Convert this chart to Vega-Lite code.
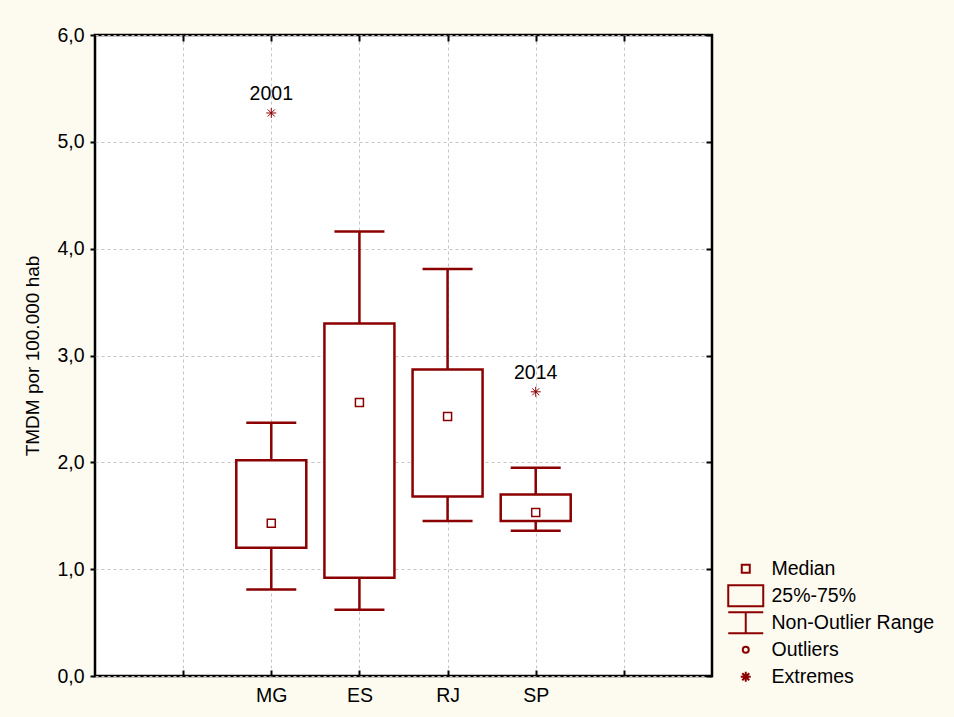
{
  "$schema": "https://vega.github.io/schema/vega-lite/v6.json",
  "width": 617,
  "height": 641,
  "autosize": {"type": "none"},
  "padding": {"left": 95, "top": 35, "right": 242, "bottom": 41},
  "background": "#FDFAF0",
  "config": {
    "view": {"fill": "white", "stroke": "#000", "strokeWidth": 2.5},
    "font": "Liberation Sans",
    "axis": {
      "domain": false,
      "labelFont": "Liberation Sans",
      "labelFontSize": 19.5,
      "labelColor": "#000",
      "tickColor": "#000",
      "tickWidth": 2,
      "gridColor": "#c4c4c4",
      "gridDash": [3, 3],
      "gridWidth": 1,
      "titleFont": "Liberation Sans",
      "titleFontWeight": "normal",
      "titleColor": "#000"
    },
    "legend": {
      "orient": "none",
      "legendX": 641,
      "legendY": 524,
      "title": null,
      "padding": 0,
      "gridAlign": "all",
      "labelFont": "Liberation Sans",
      "labelFontSize": 19.5,
      "labelColor": "#000",
      "labelLimit": 400,
      "labelOffset": 16,
      "rowPadding": -3,
      "symbolSize": 100,
      "symbolStrokeWidth": 2,
      "symbolStrokeColor": "#8B0000",
      "symbolFillColor": "transparent"
    }
  },
  "datasets": {
    "boxes": [
      {"uf": "MG", "lo": 0.81, "q1": 1.20, "med": 1.43, "q3": 2.02, "hi": 2.37},
      {"uf": "ES", "lo": 0.62, "q1": 0.92, "med": 2.56, "q3": 3.30, "hi": 4.16},
      {"uf": "RJ", "lo": 1.45, "q1": 1.68, "med": 2.43, "q3": 2.87, "hi": 3.81},
      {"uf": "SP", "lo": 1.36, "q1": 1.45, "med": 1.53, "q3": 1.70, "hi": 1.95}
    ],
    "extremes": [
      {"uf": "MG", "value": 5.27, "year": "2001"},
      {"uf": "SP", "value": 2.66, "year": "2014"}
    ]
  },
  "layer": [
    {
      "data": {"name": "boxes"},
      "mark": {"type": "rule", "color": "#8B0000", "strokeWidth": 2.5},
      "encoding": {
        "x": {
          "field": "uf", "type": "nominal",
          "scale": {"type": "point", "padding": 0, "domain": ["_0", "_1", "MG", "ES", "RJ", "SP", "_6", "_7"]},
          "axis": {
            "orient": "bottom", "title": null, "grid": true,
            "values": ["_1", "MG", "ES", "RJ", "SP", "_6"],
            "labelExpr": "indexof(datum.value, '_') == 0 ? '' : datum.value",
            "tickSize": -6, "labelPadding": 16, "labelAngle": 0
          }
        },
        "y": {
          "field": "lo", "type": "quantitative",
          "scale": {"domain": [0, 6], "nice": false},
          "axis": {
            "orient": "left", "grid": true,
            "values": [0, 1, 2, 3, 4, 5, 6],
            "labelExpr": "replace(format(datum.value, '.1f'), '.', ',')",
            "tickSize": 5, "labelPadding": 6,
            "title": "TMDM por 100.000 hab", "titleFontSize": 19, "titlePadding": 14
          }
        },
        "y2": {"field": "hi"}
      }
    },
    {
      "data": {"name": "boxes"},
      "mark": {"type": "bar", "width": 70, "fill": "white", "stroke": "#8B0000", "strokeWidth": 2.5},
      "encoding": {
        "x": {
          "field": "uf", "type": "nominal",
          "axis": {
            "orient": "top", "title": null, "grid": false, "labels": false,
            "values": ["_1", "MG", "ES", "RJ", "SP", "_6"], "tickSize": -6
          }
        },
        "y": {
          "field": "q1", "type": "quantitative",
          "axis": {
            "orient": "right", "title": null, "grid": false, "labels": false,
            "values": [0, 1, 2, 3, 4, 5, 6], "tickSize": -6
          }
        },
        "y2": {"field": "q3"}
      }
    },
    {
      "data": {"name": "boxes"},
      "mark": {"type": "tick", "orient": "horizontal", "size": 50, "thickness": 2.5, "color": "#8B0000", "opacity": 1},
      "encoding": {
        "x": {"field": "uf", "type": "nominal", "axis": null},
        "y": {"field": "lo", "type": "quantitative", "axis": null}
      }
    },
    {
      "data": {"name": "boxes"},
      "mark": {"type": "tick", "orient": "horizontal", "size": 50, "thickness": 2.5, "color": "#8B0000", "opacity": 1},
      "encoding": {
        "x": {"field": "uf", "type": "nominal", "axis": null},
        "y": {"field": "hi", "type": "quantitative", "axis": null}
      }
    },
    {
      "data": {"name": "boxes"},
      "mark": {"type": "point", "filled": false, "color": "#8B0000", "size": 100, "strokeWidth": 1.5, "opacity": 1},
      "encoding": {
        "x": {"field": "uf", "type": "nominal", "axis": null},
        "y": {"field": "med", "type": "quantitative", "axis": null},
        "shape": {
          "datum": "Median", "type": "nominal",
          "scale": {
            "domain": ["Median", "25%-75%", "Non-Outlier Range", "Outliers", "Extremes"],
            "range": [
              "M-0.8,-0.8H0.8V0.8H-0.8Z",
              "M-3.5,-2.1H3.5V2.1H-3.5Z",
              "M-3.5,-2.1H3.5M0,-2.1V2.1M-3.5,2.1H3.5",
              "M0.6,0A0.6,0.6,0,1,1,-0.6,0A0.6,0.6,0,1,1,0.6,0",
              "M-1,0H1M0,-1V1M-0.7,-0.7L0.7,0.7M-0.7,0.7L0.7,-0.7"
            ]
          }
        }
      }
    },
    {
      "data": {"name": "extremes"},
      "mark": {"type": "point", "filled": false, "color": "#8B0000", "size": 100, "strokeWidth": 1, "opacity": 1},
      "encoding": {
        "x": {"field": "uf", "type": "nominal", "axis": null},
        "y": {"field": "value", "type": "quantitative", "axis": null},
        "shape": {"datum": "Extremes", "type": "nominal"}
      }
    },
    {
      "data": {"name": "extremes"},
      "mark": {"type": "text", "fontSize": 19.5, "color": "#000", "dy": -13, "baseline": "alphabetic", "font": "Liberation Sans"},
      "encoding": {
        "x": {"field": "uf", "type": "nominal", "axis": null},
        "y": {"field": "value", "type": "quantitative", "axis": null},
        "text": {"field": "year"}
      }
    }
  ],
  "resolve": {"axis": {"x": "independent", "y": "independent"}}
}
